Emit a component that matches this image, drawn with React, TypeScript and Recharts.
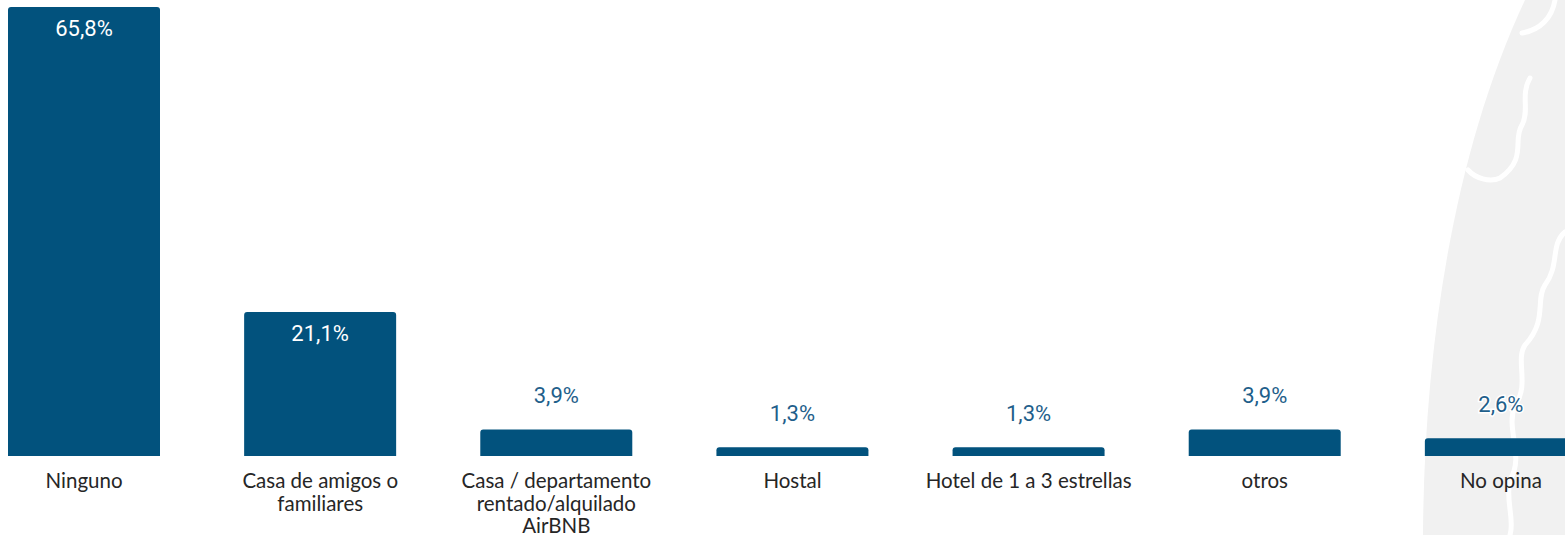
import React from 'react';
import { BarChart, Bar, XAxis, YAxis, LabelList } from 'recharts';

const categories = [
  'Ninguno',
  'Casa de amigos o\nfamiliares',
  'Casa / departamento\nrentado/alquilado\nAirBNB',
  'Hostal',
  'Hotel de 1 a 3 estrellas',
  'otros',
  'No opina',
];
const values = [65.8, 21.1, 3.9, 1.3, 1.3, 3.9, 2.6];

const data = categories.map((name, i) => ({ name, value: values[i] }));

const BAR = '#02527d';
const LABEL_BLUE = '#1f5f8b';

const fmt = (v: number) => v.toFixed(1).replace('.', ',') + '%';

const ValueLabel = (props: any) => {
  const { x, y, width, value } = props;
  const big = value > 10;
  return (
    <text
      x={x + width / 2}
      y={big ? y + 21 : y - 34}
      textAnchor="middle"
      dominantBaseline="central"
      fill={big ? '#ffffff' : LABEL_BLUE}
      stroke={big ? 'none' : '#ffffff'}
      strokeWidth={big ? 0 : 3}
      paintOrder="stroke"
      style={{ fontFamily: 'Roboto', fontSize: 22 }}
    >
      {fmt(value)}
    </text>
  );
};

const CategoryTick = (props: any) => {
  const { x, y, payload } = props;
  const lines = String(payload.value).split('\n');
  return (
    <g transform={`translate(${x},${y})`}>
      {lines.map((line, i) => (
        <text
          key={i}
          x={0}
          y={16 + i * 22.5}
          textAnchor="middle"
          dominantBaseline="central"
          fill="#262626"
          style={{ fontFamily: 'Lato', fontSize: 20.5 }}
        >
          {line}
        </text>
      ))}
    </g>
  );
};

export default function App() {
  return (
    <div style={{ position: 'absolute', left: 0, top: 0, width: 1565, height: 535, overflow: 'hidden', background: '#fff' }}>
      <svg width={1565} height={535} style={{ position: 'absolute', left: 0, top: 0 }}>
        <path d="M1423,535 C1424,360 1450,160 1525,0 L1565,0 L1565,535 Z" fill="#f1f1f1" />
        <g fill="none" stroke="#ffffff" strokeWidth={5} strokeLinecap="round">
          <path d="M1522,33 C1540,30 1552,18 1555,0" />
          <path d="M1530,78 C1520,95 1530,110 1522,125 C1512,140 1528,158 1500,178 C1490,183 1475,178 1468,170" />
          <path d="M1565,232 C1550,245 1560,265 1545,285 C1535,300 1548,320 1525,345 C1515,360 1530,385 1515,405 C1505,430 1525,455 1510,480 C1505,500 1515,520 1510,535" />
        </g>
      </svg>
      <div style={{ position: 'absolute', left: -34, top: 0 }}>
        <BarChart
          width={1653}
          height={535}
          data={data}
          margin={{ top: 7, right: 0, left: 0, bottom: 0 }}
          barSize={152}
        >
          <XAxis
            dataKey="name"
            axisLine={false}
            tickLine={false}
            height={79}
            interval={0}
            tick={<CategoryTick />}
          />
          <YAxis hide domain={[0, 'dataMax']} />
          <Bar dataKey="value" fill={BAR} radius={[3, 3, 0, 0]} isAnimationActive={false}>
            <LabelList dataKey="value" content={<ValueLabel />} />
          </Bar>
        </BarChart>
      </div>
    </div>
  );
}
